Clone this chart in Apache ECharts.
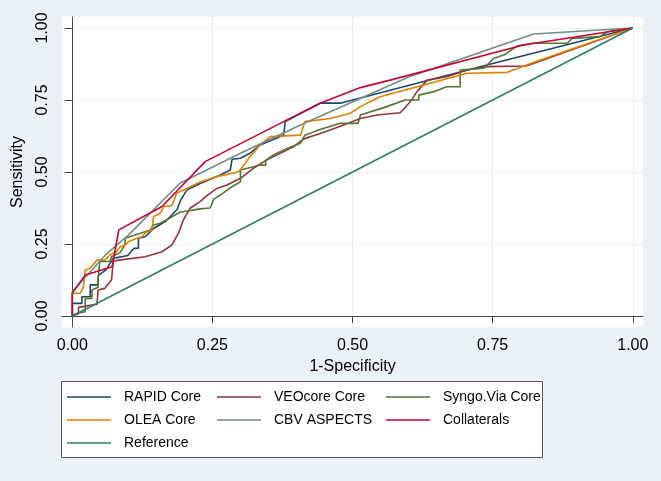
<!DOCTYPE html>
<html>
<head>
<meta charset="utf-8">
<script src="https://cdn.jsdelivr.net/npm/echarts@6/dist/echarts.min.js"></script>
<style>
html,body{margin:0;padding:0;background:#eaf2f3;}
#chart{width:661px;height:481px;}
</style>
</head>
<body>
<div id="chart"></div>
<script>
// ---- data ----
const tickValues = [0, 0.25, 0.5, 0.75, 1];
const tickLabels = ['0.00', '0.25', '0.50', '0.75', '1.00'];
const seriesNames = ['RAPID Core', 'VEOcore Core', 'Syngo.Via Core', 'OLEA Core', 'CBV ASPECTS', 'Collaterals', 'Reference'];

const rapidCore = [[0,0],[0,0.044],[0.017,0.044],[0.017,0.067],[0.032,0.067],[0.032,0.108],[0.046,0.108],[0.046,0.14],[0.06,0.16],[0.073,0.2],[0.099,0.21],[0.11,0.235],[0.118,0.235],[0.118,0.27],[0.13,0.275],[0.145,0.304],[0.167,0.33],[0.187,0.37],[0.192,0.397],[0.204,0.437],[0.228,0.46],[0.258,0.484],[0.282,0.507],[0.285,0.544],[0.3,0.548],[0.317,0.565],[0.335,0.594],[0.377,0.628],[0.38,0.628],[0.38,0.675],[0.442,0.739],[0.478,0.739],[0.75,0.877],[1,1]];

const veoCore = [[0,0],[0.011,0.008],[0.011,0.03],[0.04,0.04],[0.044,0.04],[0.046,0.09],[0.058,0.096],[0.07,0.125],[0.073,0.19],[0.083,0.194],[0.13,0.206],[0.16,0.223],[0.178,0.247],[0.19,0.29],[0.198,0.333],[0.21,0.374],[0.228,0.397],[0.24,0.418],[0.258,0.443],[0.276,0.455],[0.3,0.478],[0.323,0.513],[0.347,0.542],[0.371,0.565],[0.395,0.588],[0.413,0.615],[0.442,0.634],[0.46,0.646],[0.484,0.663],[0.514,0.686],[0.544,0.698],[0.585,0.706],[0.603,0.744],[0.615,0.779],[0.633,0.819],[0.668,0.831],[0.704,0.854],[0.74,0.866],[0.81,0.868],[1,1]];

const syngoViaCore = [[0,0],[0.006,0.008],[0.023,0.015],[0.023,0.061],[0.035,0.061],[0.035,0.09],[0.046,0.1],[0.046,0.125],[0.049,0.189],[0.067,0.189],[0.07,0.206],[0.085,0.22],[0.094,0.247],[0.094,0.27],[0.112,0.281],[0.139,0.299],[0.145,0.316],[0.157,0.322],[0.192,0.36],[0.228,0.372],[0.246,0.375],[0.252,0.405],[0.264,0.42],[0.285,0.449],[0.3,0.466],[0.3,0.507],[0.335,0.524],[0.345,0.524],[0.345,0.54],[0.359,0.559],[0.383,0.582],[0.407,0.6],[0.415,0.628],[0.439,0.646],[0.478,0.669],[0.51,0.669],[0.514,0.698],[0.561,0.727],[0.594,0.75],[0.618,0.75],[0.618,0.767],[0.645,0.779],[0.668,0.796],[0.692,0.796],[0.692,0.854],[0.734,0.86],[0.752,0.895],[0.77,0.906],[0.794,0.938],[0.823,0.947],[0.883,0.947],[0.892,0.964],[0.942,0.97],[0.954,0.987],[1,1]];

const oleaCore = [[0,0],[0,0.079],[0.014,0.079],[0.02,0.102],[0.023,0.16],[0.032,0.166],[0.044,0.194],[0.058,0.194],[0.067,0.212],[0.079,0.223],[0.085,0.24],[0.094,0.245],[0.1,0.258],[0.115,0.27],[0.124,0.275],[0.133,0.293],[0.142,0.298],[0.145,0.345],[0.157,0.357],[0.163,0.38],[0.178,0.384],[0.186,0.426],[0.204,0.443],[0.228,0.465],[0.258,0.484],[0.297,0.501],[0.317,0.553],[0.335,0.594],[0.353,0.623],[0.407,0.628],[0.415,0.675],[0.46,0.686],[0.496,0.704],[0.514,0.727],[0.549,0.761],[0.627,0.802],[0.704,0.843],[0.776,0.846],[0.835,0.889],[1,1]];

const cbvAspects = [[0,0],[0,0.084],[0.059,0.212],[0.1,0.281],[0.192,0.461],[0.3,0.565],[0.407,0.663],[0.6,0.83],[0.823,0.979],[1,1]];

const collaterals = [[0,0],[0,0.08],[0.023,0.142],[0.071,0.171],[0.083,0.299],[0.16,0.38],[0.237,0.536],[0.377,0.675],[0.442,0.739],[0.514,0.793],[0.567,0.819],[0.805,0.941],[1,1]];

const reference = [[0,0],[1,1]];

// ---- styling ----
const colors = ['#1a476f', '#90353b', '#55752f', '#e37e00', '#6e8e84', '#c10534', '#2e7d6b'];
const FONT = "'Liberation Sans', Arial, sans-serif";
const allData = [rapidCore, veoCore, syngoViaCore, oleaCore, cbvAspects, collaterals, reference];

const chart = echarts.init(document.getElementById('chart'), null, {renderer: 'canvas'});

const legendCommon = {
  orient: 'vertical',
  top: 389,
  padding: 0,
  icon: 'rect',
  itemWidth: 44,
  itemHeight: 1.5,
  itemGap: 7,
  selectedMode: false,
  textStyle: {fontFamily: FONT, fontSize: 14, lineHeight: 16, color: '#000', padding: [0, 0, 0, 8]}
};

const option = {
  animation: false,
  backgroundColor: '#eaf2f3',
  textStyle: {fontFamily: FONT},
  grid: {left: 62, top: 17, right: 18, bottom: 154, show: true, backgroundColor: '#ffffff', borderWidth: 0, containLabel: false},
  xAxis: {
    type: 'value', min: -0.0184, max: 1.0182,
    name: '1-Specificity', nameLocation: 'middle', nameGap: 31,
    nameTextStyle: {fontFamily: FONT, fontSize: 16, color: '#000'},
    axisLine: {show: true, lineStyle: {color: '#444', width: 1}},
    axisTick: {show: true, length: 7, lineStyle: {color: '#444'}, customValues: tickValues},
    axisLabel: {fontFamily: FONT, fontSize: 16, color: '#000', margin: 11, customValues: tickValues,
      formatter: v => tickLabels[tickValues.indexOf(Math.round(v * 100) / 100)] ?? ''},
    splitLine: {show: true, lineStyle: {color: '#e6eff1', width: 1}}
  },
  yAxis: {
    type: 'value', min: -0.0382, max: 1.0382,
    name: 'Sensitivity', nameLocation: 'middle', nameGap: 36,
    nameTextStyle: {fontFamily: FONT, fontSize: 16, color: '#000'},
    axisLine: {show: true, lineStyle: {color: '#444', width: 1}},
    axisTick: {show: true, length: 7, lineStyle: {color: '#444'}, customValues: tickValues},
    axisLabel: {fontFamily: FONT, fontSize: 16, color: '#000', margin: 11, rotate: 90, customValues: tickValues,
      formatter: v => tickLabels[tickValues.indexOf(Math.round(v * 100) / 100)] ?? ''},
    splitLine: {show: true, lineStyle: {color: '#e6eff1', width: 1}}
  },
  legend: [
    Object.assign({}, legendCommon, {left: 67, data: [seriesNames[0], seriesNames[3], seriesNames[6]]}),
    Object.assign({}, legendCommon, {left: 217, data: [seriesNames[1], seriesNames[4]]}),
    Object.assign({}, legendCommon, {left: 386, data: [seriesNames[2], seriesNames[5]]})
  ],
  graphic: [{
    type: 'rect', z: -1, silent: true,
    shape: {x: 61.5, y: 381.5, width: 481, height: 76},
    style: {fill: '#ffffff', stroke: '#555', lineWidth: 1}
  }],
  series: seriesNames.map((n, i) => ({
    name: n, type: 'line', data: allData[i], showSymbol: false, symbol: 'none',
    lineStyle: {color: colors[i], width: 1.6}, itemStyle: {color: colors[i]},
    z: 2 + i
  }))
};
chart.setOption(option);
</script>
</body>
</html>
